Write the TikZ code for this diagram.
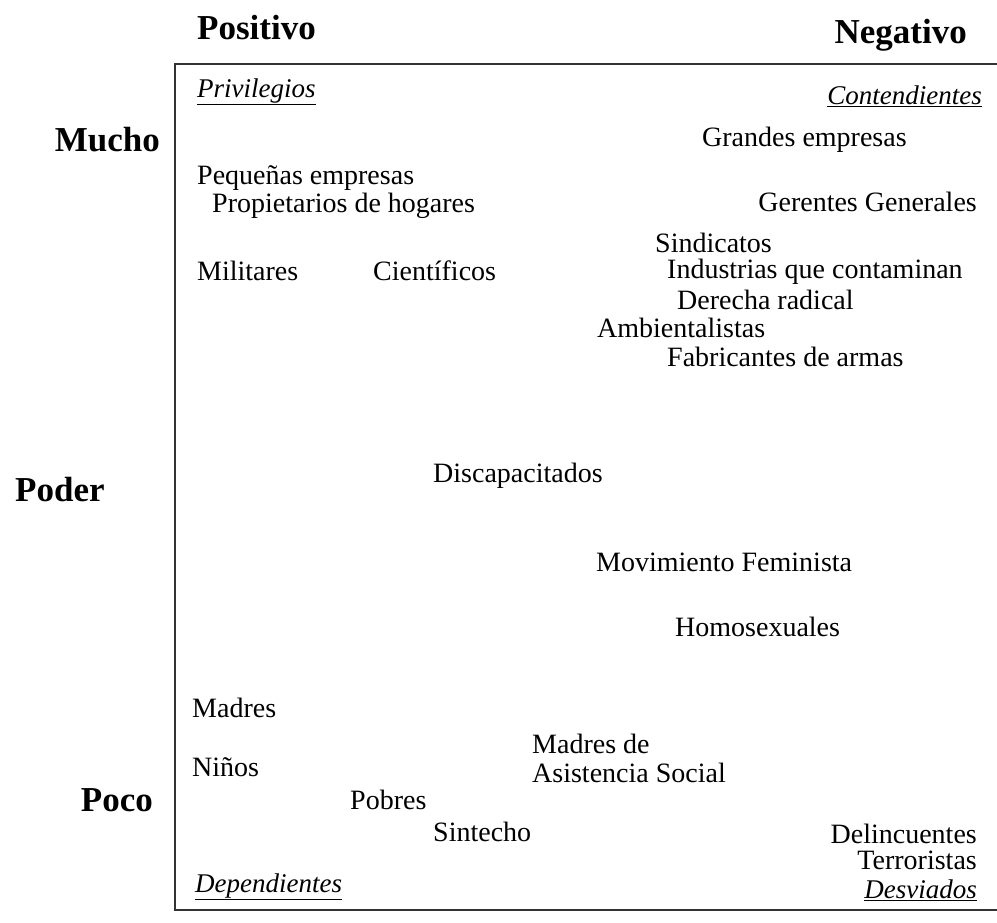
\documentclass[tikz,border=0pt]{standalone}
\usepackage{fontspec}
\setmainfont{Liberation Serif}
\usepackage{tikz}

\begin{document}
\begin{tikzpicture}[x=1pt,y=-1pt,
        group/.style={inner sep=0pt,font=\fontsize{28}{29}\selectfont},
        axis label/.style={inner sep=0pt,font=\fontsize{35}{36}\selectfont\bfseries},
        corner label/.style={inner sep=0pt,font=\fontsize{27}{29}\selectfont\itshape}]

        \useasboundingbox (0,0) rectangle (997,922);

        % ejes
        \node[axis label,anchor=west] (pos) at (197,28) {Positivo};
        \node[axis label,anchor=east] (neg) at (967,35) {Negativo};
        \node[axis label,anchor=east] (mucho) at (160,140) {Mucho};
        \node[axis label,anchor=west] (poder) at (15,490) {Poder};
        \node[axis label,anchor=east] (poco) at (153,800) {Poco};

        \draw[black!80,line width=1.5pt] (997,64) -- (175,64) -- (175,910) -- (997,910);

        % cuadrantes
        \node[corner label,anchor=west] (priv) at (197,92) {\underline{Privilegios}};
        \node[corner label,anchor=east] (cont) at (982,96) {\underline{Contendientes}};
        \node[corner label,anchor=west] (dep) at (195,887) {\underline{Dependientes}};
        \node[corner label,anchor=east] (desv) at (977,890) {\underline{Desviados}};

        % grupos
        \node[group,anchor=west] (grandes) at (702,140) {Grandes empresas};
        \node[group,anchor=west] (pequenas) at (197,178) {Pequeñas empresas};
        \node[group,anchor=west] (propiet) at (212,206) {Propietarios de hogares};
        \node[group,anchor=east] (gerentes) at (977,202) {Gerentes Generales};
        \node[group,anchor=west] (sindic) at (655,243) {Sindicatos};
        \node[group,anchor=west] (milit) at (197,271) {Militares};
        \node[group,anchor=west] (cient) at (373,271) {Científicos};
        \node[group,anchor=west] (indust) at (667,272) {Industrias que contaminan};
        \node[group,anchor=west] (derecha) at (677,300) {Derecha radical};
        \node[group,anchor=west] (ambient) at (597,328) {Ambientalistas};
        \node[group,anchor=west] (fabric) at (667,357) {Fabricantes de armas};
        \node[group,anchor=west] (discap) at (433,476) {Discapacitados};
        \node[group,anchor=west] (femin) at (596,562) {Movimiento Feminista};
        \node[group,anchor=west] (homo) at (675,627) {Homosexuales};
        \node[group,anchor=west] (madres) at (192,708) {Madres};
        \node[group,anchor=west,align=left] (asist) at (532,758) {Madres de\\Asistencia Social};
        \node[group,anchor=west] (ninos) at (192,767) {Niños};
        \node[group,anchor=west] (pobres) at (350,800) {Pobres};
        \node[group,anchor=west] (sintecho) at (433,832) {Sintecho};
        \node[group,anchor=east] (delinc) at (977,834) {Delincuentes};
        \node[group,anchor=east] (terror) at (977,860) {Terroristas};
      \end{tikzpicture}
\end{document}
